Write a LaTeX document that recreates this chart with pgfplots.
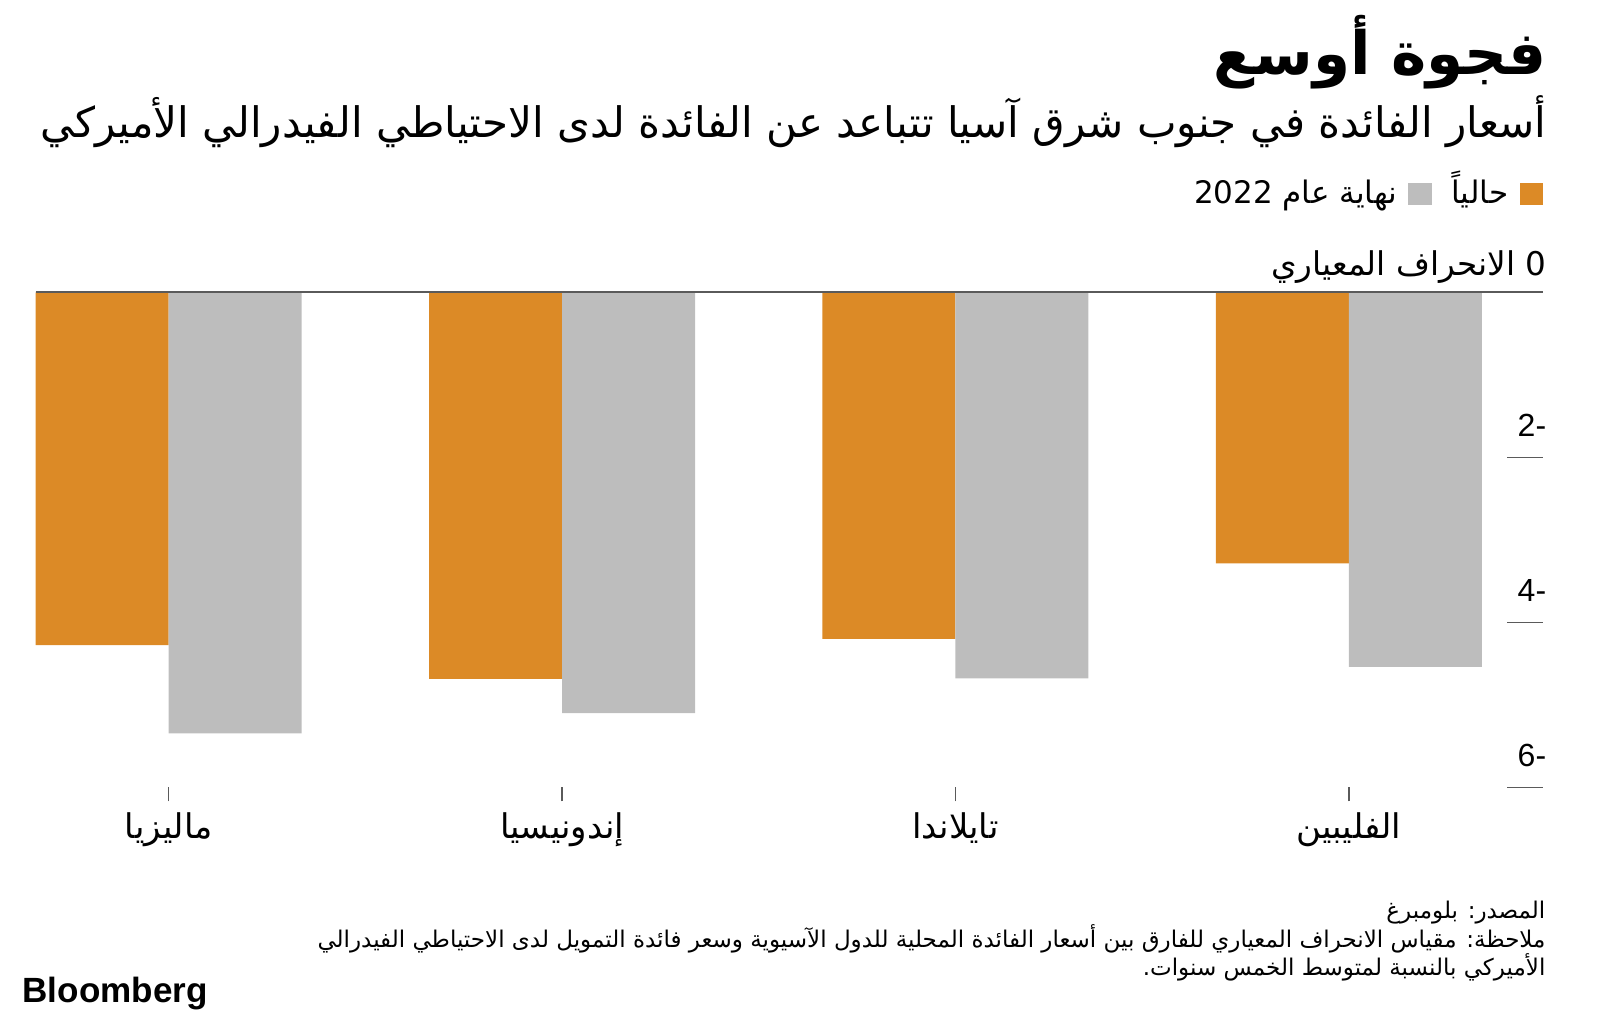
\documentclass[border=0pt]{standalone}
\usepackage{pgfplots}
\pgfplotsset{compat=1.18}
\usepackage{fontspec}
\setmainfont{Liberation Sans}
\newfontfamily\arabicfont[Script=Arabic]{DejaVu Sans}
\TeXXeTstate=1
\definecolor{barorange}{HTML}{DC8A26}
\definecolor{bargray}{HTML}{BDBDBD}
\definecolor{axisgray}{HTML}{5A5A5A}
\newcommand\AR[1]{{\arabicfont\beginR #1\endR}}
\begin{document}
\begin{tikzpicture}
\path[use as bounding box] (0,0) rectangle (480pt,-306.3pt);
\begin{axis}[
  at={(10.71pt,-236.19pt)}, anchor=south west,
  scale only axis, width=441.27pt, height=148.5pt,
  xmin=-0.338, xmax=3.401, ymin=-6, ymax=0,
  axis x line*=bottom, axis y line*=right, axis line style={draw=none},
  tick align=outside,
  major tick length=4.2pt,
  xtick={0,1,2,3},
  xticklabels={\AR{ماليزيا},\AR{إندونيسيا},\AR{تايلاندا},\AR{الفليبين}},
  xticklabel style={font=\fontsize{10.2}{12}\selectfont, text=black},
  x tick style={draw=axisgray, line width=0.4pt},
  ytick=\empty,
  extra y ticks={-6,-4,-2},
  extra y tick labels={\textrm{6-},\textrm{4-},\textrm{2-}},
  extra y tick style={major tick length=10.9pt, y tick style={draw=axisgray, line width=0.45pt}},
  yticklabel style={font=\fontsize{9.6}{11}\selectfont, anchor=east, xshift=4.5pt, yshift=9.6pt, text=black},
  axis on top,
  clip=false,
]
\addplot[ybar, bar width=0.338, bar shift=-0.169, fill=barorange, draw=none]
  coordinates {(0,-4.275) (1,-4.687) (2,-4.20) (3,-3.285)};
\addplot[ybar, bar width=0.338, bar shift=0.169, fill=bargray, draw=none]
  coordinates {(0,-5.345) (1,-5.10) (2,-4.68) (3,-4.54)};
\draw[axisgray, line width=0.6pt] (axis cs:-0.338,0) -- ([xshift=10.9pt]axis cs:3.401,0);
\end{axis}
\begin{scope}[x=0.3pt,y=-0.3pt]
\node[anchor=base east, inner sep=0] at (1547,74) {\fontsize{17.9}{20}\arabicfont\bfseries\beginR فجوة أوسع\endR};
\node[anchor=base east, inner sep=0] at (1547,137) {\fontsize{12.6}{14}\arabicfont\beginR أسعار الفائدة في جنوب شرق آسيا تتباعد عن الفائدة لدى الاحتياطي الفيدرالي الأميركي\endR};
\fill[barorange] (1520,183) rectangle (1543,205);
\fill[bargray] (1408,183) rectangle (1432,205);
\node[anchor=base east, inner sep=0] at (1509,203) {\fontsize{9.3}{11}\arabicfont\beginR حالياً\endR};
\node[anchor=base east, inner sep=0] at (1398,203) {\fontsize{9.3}{11}\arabicfont\beginR نهاية عام 2022\endR};
\node[anchor=base east, inner sep=0] at (1547,275) {\fontsize{9.8}{11}\arabicfont\beginR 0 الانحراف المعياري\endR};
\node[anchor=base east, inner sep=0] at (1546,918) {\fontsize{6.9}{8}\arabicfont\beginR المصدر: بلومبرغ\endR};
\node[anchor=base east, inner sep=0] at (1546,947) {\fontsize{6.9}{8}\arabicfont\beginR ملاحظة: مقياس الانحراف المعياري للفارق بين أسعار الفائدة المحلية للدول الآسيوية وسعر فائدة التمويل لدى الاحتياطي الفيدرالي\endR};
\node[anchor=base east, inner sep=0] at (1546,975) {\fontsize{6.9}{8}\arabicfont\beginR الأميركي بالنسبة لمتوسط الخمس سنوات.\endR};
\node[anchor=base west, inner sep=0] at (22,1002) {\resizebox{55.5pt}{!}{\bfseries Bloomberg}};
\end{scope}
\end{tikzpicture}
\end{document}
